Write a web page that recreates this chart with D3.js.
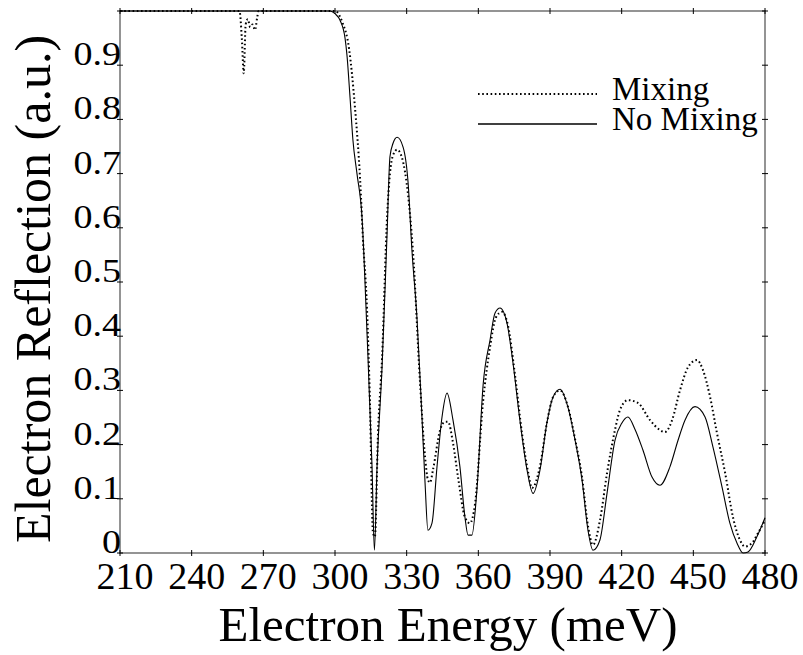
<!DOCTYPE html>
<html>
<head>
<meta charset="utf-8">
<script src="https://cdn.jsdelivr.net/npm/d3@7/dist/d3.min.js"></script>
<style>
  html, body { margin: 0; padding: 0; background: #fff; }
  svg { display: block; }
  text { font-family: "Liberation Serif", "Times New Roman", serif; fill: #000; }
</style>
</head>
<body>
<svg id="chart" width="803" height="655"></svg>
<script>
// Electron reflection vs. energy, with and without band mixing
const xTicks = [210, 240, 270, 300, 330, 360, 390, 420, 450, 480];
const yTicks = [0, 0.1, 0.2, 0.3, 0.4, 0.5, 0.6, 0.7, 0.8, 0.9, 1.0];
const yTickLabels = ["0", "0.1", "0.2", "0.3", "0.4", "0.5", "0.6", "0.7", "0.8", "0.9", ""];

const seriesNames = ["Mixing", "No Mixing"];

const mixingEnergy = [210, 260, 261, 261.8, 262.6, 263.5, 264.5, 265.5, 266.5, 267.5, 268,
  300, 303, 305.9, 308.4, 310.5, 311.7, 313.4, 314.6, 315.9, 316.7,
  318.0, 319.7, 321.8, 323.0, 324.3, 326.0, 328.0, 330.6, 332.6, 335.6,
  337.7, 338.9, 339.8, 341.0, 344.0, 346.0, 347.3, 349.4, 351.5, 354.4,
  356.5, 358.6, 362.0, 364.9, 367.4, 369.9, 372.4, 375.3, 378.3, 380.8,
  382.5, 385.8, 388.7, 391.3, 394.2, 397.5, 400.5, 403.4, 405.9, 408.0,
  410.9, 413.9, 417.2, 419.3, 422.6, 426.8, 431.9, 436.0, 438.1, 441.1,
  444.4, 447.8, 451.5, 454.0, 457.0, 459.9, 463.3, 466.6, 469.5, 471.6,
  474.5, 477.1, 480];
const mixingReflection = [1, 1, 0.95, 0.885, 0.975, 0.985, 0.97, 0.975, 0.965, 0.99, 1,
  1, 0.98, 0.93, 0.82, 0.69, 0.58, 0.45, 0.283, 0.037, 0.03,
  0.22, 0.36, 0.62, 0.70, 0.734, 0.744, 0.73, 0.66, 0.559, 0.314,
  0.177, 0.135, 0.13, 0.153, 0.227, 0.242, 0.242, 0.203, 0.14, 0.066,
  0.055, 0.09, 0.28, 0.38, 0.435, 0.445, 0.42, 0.33, 0.22, 0.15,
  0.12, 0.16, 0.24, 0.288, 0.3, 0.27, 0.21, 0.14, 0.05, 0.015,
  0.06, 0.148, 0.227, 0.264, 0.282, 0.277, 0.245, 0.227, 0.223, 0.245,
  0.30, 0.343, 0.356, 0.338, 0.288, 0.221, 0.148, 0.066, 0.024, 0.012,
  0.018, 0.037, 0.06];

const noMixingEnergy = [210, 240, 270, 298, 300, 302.1, 304.2, 305.0, 306.3, 307.5,
  309.2, 311.3, 313.4, 315.5, 316.5, 317.6, 319.7, 321.8, 323.0, 324.3,
  326.0, 328.5, 330.6, 332.2, 334.3, 336.4, 337.7, 338.9, 340.6, 342.7,
  344.8, 346.9, 349.4, 352.3, 354.4, 355.7, 357.3, 359.4, 362.0, 364.9,
  367.0, 369.1, 372.0, 374.5, 377.4, 380.4, 382.9, 385.8, 388.7, 391.3,
  394.2, 397.5, 400.5, 403.4, 405.9, 408.0, 410.9, 413.9, 417.2, 420.1,
  422.6, 425.6, 428.9, 432.7, 436.0, 440.2, 443.6, 446.5, 450.7, 454.9,
  458.2, 462.0, 465.3, 468.3, 470.8, 472.9, 476.6, 480];
const noMixingReflection = [1, 1, 1, 1, 0.995, 0.983, 0.95, 0.919, 0.84, 0.762,
  0.70, 0.62, 0.406, 0.159, 0.005, 0.159, 0.343, 0.59, 0.731, 0.756,
  0.767, 0.749, 0.683, 0.559, 0.435, 0.251, 0.129, 0.042, 0.055, 0.159,
  0.251, 0.295, 0.245, 0.159, 0.066, 0.033, 0.033, 0.116, 0.31, 0.393,
  0.443, 0.452, 0.424, 0.351, 0.245, 0.153, 0.11, 0.153, 0.24, 0.288,
  0.302, 0.269, 0.208, 0.135, 0.042, 0.005, 0.024, 0.111, 0.208, 0.24,
  0.251, 0.228, 0.19, 0.14, 0.125, 0.159, 0.208, 0.245, 0.27, 0.251,
  0.196, 0.122, 0.055, 0.018, 0.0, 0.002, 0.03, 0.065];

const svg = d3.select("#chart");
const plot = { left: 120, right: 765, top: 11, bottom: 553 };

const x = d3.scaleLinear().domain([210, 480]).range([plot.left, plot.right]);
const y = d3.scaleLinear().domain([0, 1]).range([plot.bottom, plot.top]);

// frame
const frameColor = "#7a7a7a";
svg.append("rect")
  .attr("x", plot.left).attr("y", plot.top)
  .attr("width", plot.right - plot.left).attr("height", plot.bottom - plot.top)
  .attr("fill", "none").attr("stroke", frameColor).attr("stroke-width", 1.6);

// cross-shaped ticks on all four sides
const tk = 3;
const ticks = svg.append("g").attr("stroke", "#000").attr("stroke-width", 1);
xTicks.forEach(v => {
  [plot.bottom, plot.top].forEach(yy => {
    ticks.append("line").attr("x1", x(v)).attr("x2", x(v))
      .attr("y1", yy - tk).attr("y2", yy + tk);
  });
});
yTicks.forEach(v => {
  [plot.left, plot.right].forEach(xx => {
    ticks.append("line").attr("x1", xx - tk).attr("x2", xx + tk)
      .attr("y1", y(v)).attr("y2", y(v));
  });
});

// tick labels
svg.append("g").selectAll("text").data(xTicks).join("text")
  .attr("x", d => x(d) + 5).attr("y", 589)
  .attr("text-anchor", "middle")
  .style("font-size", "38px")
  .text(d => d);

svg.append("g").selectAll("text").data(yTicks).join("text")
  .attr("transform", d => `translate(${plot.left + 1},${y(d)}) scale(1.12,1)`)
  .attr("text-anchor", "end")
  .style("font-size", "34px")
  .text((d, i) => yTickLabels[i]);

// axis titles
svg.append("text")
  .attr("x", 448).attr("y", 641)
  .attr("text-anchor", "middle")
  .style("font-size", "49px")
  .text("Electron Energy (meV)");

svg.append("text")
  .attr("transform", "translate(50,289) rotate(-90)")
  .attr("text-anchor", "middle")
  .style("font-size", "50px")
  .text("Electron Reflection (a.u.)");

// curves
const line = d3.line().x(d => x(d[0])).y(d => y(d[1])).curve(d3.curveMonotoneX);
const dotted = "1.6 2.6";

svg.append("path")
  .datum(d3.zip(noMixingEnergy, noMixingReflection))
  .attr("d", line)
  .attr("fill", "none").attr("stroke", "#000").attr("stroke-width", 1.1);

svg.append("path")
  .datum(d3.zip(mixingEnergy, mixingReflection))
  .attr("d", line)
  .attr("fill", "none").attr("stroke", "#000").attr("stroke-width", 2)
  .attr("stroke-dasharray", dotted);

// legend
const legend = svg.append("g");
const legendRows = [
  { name: seriesNames[0], dash: dotted, width: 2, y: 94 },
  { name: seriesNames[1], dash: null, width: 1.3, y: 124 }
];
legendRows.forEach(r => {
  legend.append("line")
    .attr("x1", 478).attr("x2", 597).attr("y1", r.y).attr("y2", r.y)
    .attr("stroke", "#000").attr("stroke-width", r.width)
    .attr("stroke-dasharray", r.dash);
  legend.append("text")
    .attr("x", 612).attr("y", r.y + 6)
    .style("font-size", "33px")
    .text(r.name);
});
</script>
</body>
</html>
